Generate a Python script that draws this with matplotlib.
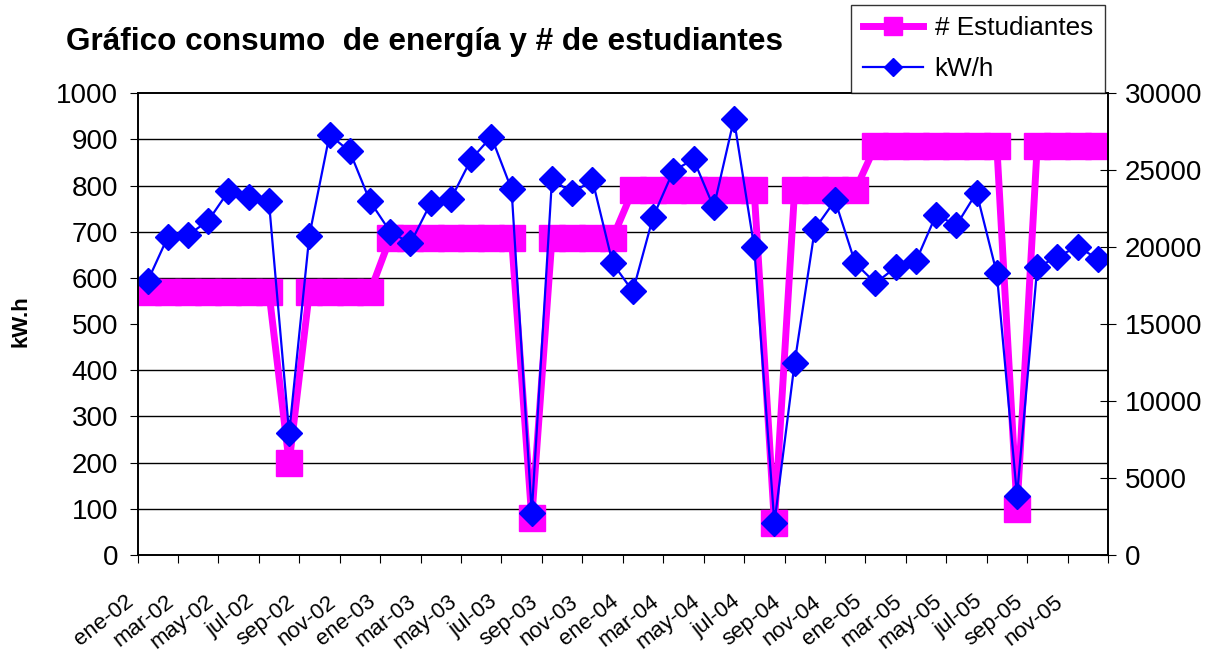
import matplotlib
matplotlib.use("Agg")
import matplotlib.pyplot as plt
import numpy as np

plt.rcParams['font.family'] = ['Liberation Sans', 'DejaVu Sans']

meses = ["ene", "feb", "mar", "abr", "may", "jun", "jul", "ago", "sep", "oct", "nov", "dic"]
anios = ["02", "03", "04", "05"]
categorias = [m + "-" + a for a in anios for m in meses]

kwh = [593, 689, 693, 724, 788, 776, 766, 264, 692, 910, 874, 766,
       700, 675, 762, 771, 857, 906, 792, 91, 814, 784, 812, 632,
       571, 732, 832, 857, 753, 944, 667, 69, 416, 706, 768, 632,
       589, 623, 636, 737, 714, 785, 610, 128, 623, 646, 668, 641]

estudiantes = [17100, 17100, 17100, 17100, 17100, 17100, 17100, 6000, 17100, 17100, 17100, 17100,
               20600, 20600, 20600, 20600, 20600, 20600, 20600, 2400, 20600, 20600, 20600, 20600,
               23700, 23700, 23700, 23700, 23700, 23700, 23700, 2100, 23700, 23700, 23700, 23700,
               26600, 26600, 26600, 26600, 26600, 26600, 26600, 3000, 26600, 26600, 26600, 26600]

W, H = 1224, 653
fig = plt.figure(figsize=(W / 100, H / 100), dpi=100)
fig.subplots_adjust(left=137.5 / W, right=1108 / W, bottom=1 - 555 / H, top=1 - 93.3 / H)

ax = fig.add_subplot(111)
ax2 = ax.twinx()
x = np.arange(len(categorias))

# estudiantes (eje derecho), dibujado debajo
l1, = ax2.plot(x, estudiantes, color='#FF00FF', lw=5, marker='s', ms=19,
               mfc='#FF00FF', mec='#FF00FF', label='# Estudiantes', solid_joinstyle='miter')
ax2.set_ylim(0, 30000)
ax2.set_yticks(np.arange(0, 30001, 5000))
ax2.set_yticks(np.arange(0, 30001, 3000), minor=True)
ax2.grid(which='minor', color='black', lw=1)
ax2.set_axisbelow(True)
ax2.tick_params(which='minor', length=0)
ax2.tick_params(axis='y', which='major', direction='inout', length=12, labelsize=20, pad=6)

# kW/h (eje izquierdo), encima
ax.set_zorder(ax2.get_zorder() + 1)
ax.patch.set_visible(False)
l2, = ax.plot(x, kwh, color='#0000FF', lw=1.6, marker='D', ms=13,
              mfc='#0000FF', mec='#0000FF', label='kW/h')
ax.set_ylim(0, 1000)
ax.set_yticks(np.arange(0, 1001, 100))
ax.tick_params(axis='y', direction='out', length=6, labelsize=20, pad=8)

ax.set_xlim(-0.5, len(categorias) - 0.5)
ax.set_xticks(np.arange(-0.5, len(categorias), 2))
ax.set_xticklabels(categorias[::2] + [""], rotation=38, ha='right', fontsize=16)
ax.tick_params(axis='x', direction='out', length=6, pad=20)

for a in (ax, ax2):
    for s in a.spines.values():
        s.set_color('black')
        s.set_linewidth(1.2)

fig.text(66 / W, 1 - 50 / H, "Gráfico consumo  de energía y # de estudiantes",
         fontsize=22.7, fontweight='bold', va='baseline', ha='left')
fig.text(21 / W, 1 - 321 / H, "kW.h", fontsize=16, fontweight='bold',
         rotation=90, ha='center', va='center')

leg = ax.legend([l1, l2], ['# Estudiantes', 'kW/h'], loc='lower left',
                bbox_to_anchor=(851 / W, 1 - 93 / H), bbox_transform=fig.transFigure,
                fontsize=18.8, frameon=True, fancybox=False, borderaxespad=0,
                markerscale=0.7, handlelength=2.3, handletextpad=0.45,
                borderpad=0.45, labelspacing=0.65)
leg.get_frame().set_edgecolor('black')
leg.get_frame().set_linewidth(1)

fig.savefig("out.png", dpi=100)
